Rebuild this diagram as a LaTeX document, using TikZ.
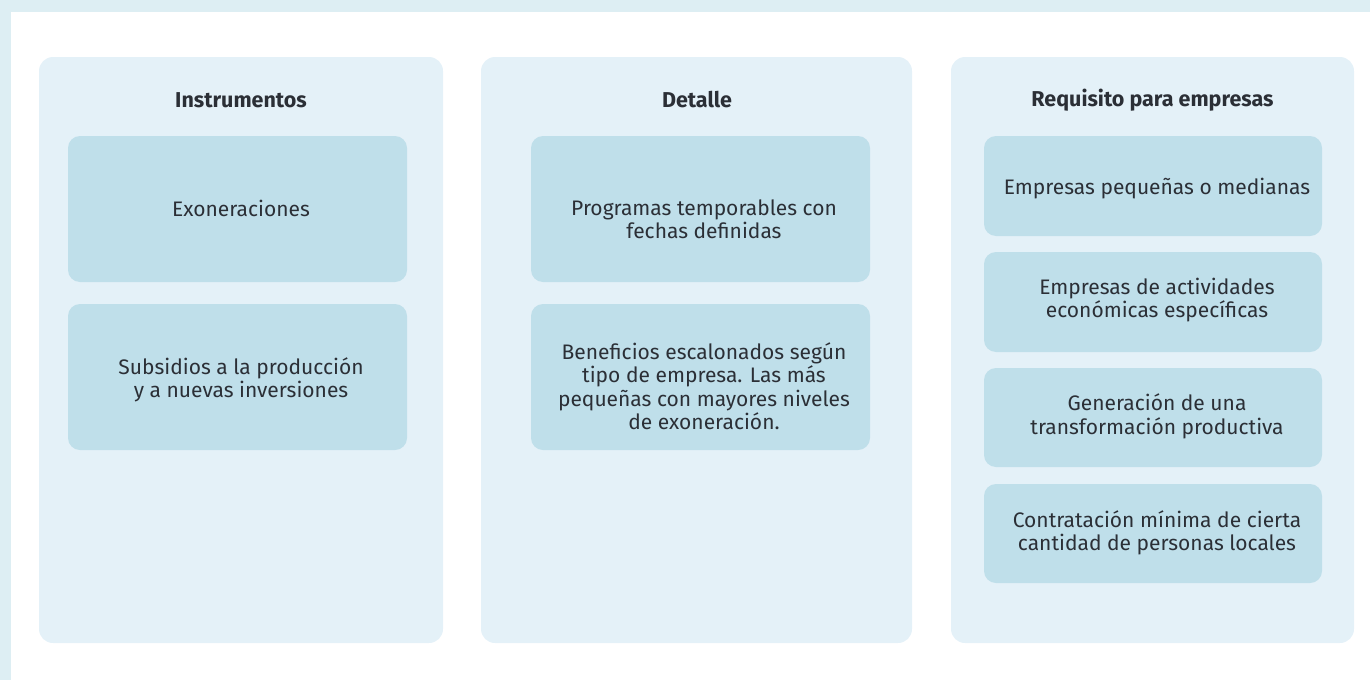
\documentclass[tikz,border=0pt]{standalone}
\usepackage{fontspec}
\setmainfont{Fira Sans}
\definecolor{band}{HTML}{DDEEF3}
\definecolor{panel}{HTML}{E4F1F8}
\definecolor{boxc}{HTML}{BFDFEA}
\definecolor{txt}{HTML}{2B2F36}
\tikzset{
  x=1pt,y=1pt,
  panelbox/.style={rectangle, rounded corners=14pt, fill=panel, inner sep=0pt, anchor=center},
  itembox/.style={rectangle, rounded corners=12pt, fill=boxc, inner sep=0pt, anchor=center},
  itemtext/.style={text=txt, align=center, inner sep=0pt, font=\fontsize{21}{23.5}\selectfont},
  titletext/.style={text=txt, align=center, inner sep=0pt, font=\fontsize{21.5}{24}\selectfont\bfseries},
}
\begin{document}
\begin{tikzpicture}
\useasboundingbox (0,0) rectangle (1370,-680);
\fill[band] (0,0) rectangle (1370,-12);
\fill[band] (0,0) rectangle (11,-680);
% panels
\node[panelbox, minimum width=404pt, minimum height=586pt] (p1) at (241,-350) {};
\node[panelbox, minimum width=431pt, minimum height=586pt] (p2) at (696.5,-350) {};
\node[panelbox, minimum width=403pt, minimum height=586pt] (p3) at (1152.5,-350) {};
% titles
\node[titletext] (t1) at (241,-100) {Instrumentos};
\node[titletext] (t2) at (697,-100) {Detalle};
\node[titletext] (t3) at (1152.5,-100) {Requisito para empresas};
% column 1
\node[itembox, minimum width=339pt, minimum height=146pt] (a1) at (237.5,-209) {};
\node[itembox, minimum width=339pt, minimum height=146pt] (a2) at (237.5,-377) {};
\node[itemtext] (a1t) at (241,-208) {Exoneraciones};
\node[itemtext] (a2t) at (241,-380) {Subsidios a la producción\\y a nuevas inversiones};
% column 2
\node[itembox, minimum width=339pt, minimum height=146pt] (b1) at (700.5,-209) {};
\node[itembox, minimum width=339pt, minimum height=146pt] (b2) at (700.5,-377) {};
\node[itemtext] (b1t) at (704,-219) {Programas temporables con\\fechas definidas};
\node[itemtext] (b2t) at (704,-386) {Beneficios escalonados según\\tipo de empresa. Las más\\pequeñas con mayores niveles\\de exoneración.};
% column 3
\node[itembox, minimum width=338pt, minimum height=100pt] (c1) at (1153,-186) {};
\node[itembox, minimum width=338pt, minimum height=100pt] (c2) at (1153,-302) {};
\node[itembox, minimum width=338pt, minimum height=99pt] (c3) at (1153,-417.5) {};
\node[itembox, minimum width=338pt, minimum height=99pt] (c4) at (1153,-533.5) {};
\node[itemtext] (c1t) at (1157,-189) {Empresas pequeñas o medianas};
\node[itemtext] (c2t) at (1157,-300) {Empresas de actividades\\económicas específicas};
\node[itemtext] (c3t) at (1157,-416.5) {Generación de una\\transformación productiva};
\node[itemtext] (c4t) at (1157,-533) {Contratación mínima de cierta\\cantidad de personas locales};
\end{tikzpicture}
\end{document}
